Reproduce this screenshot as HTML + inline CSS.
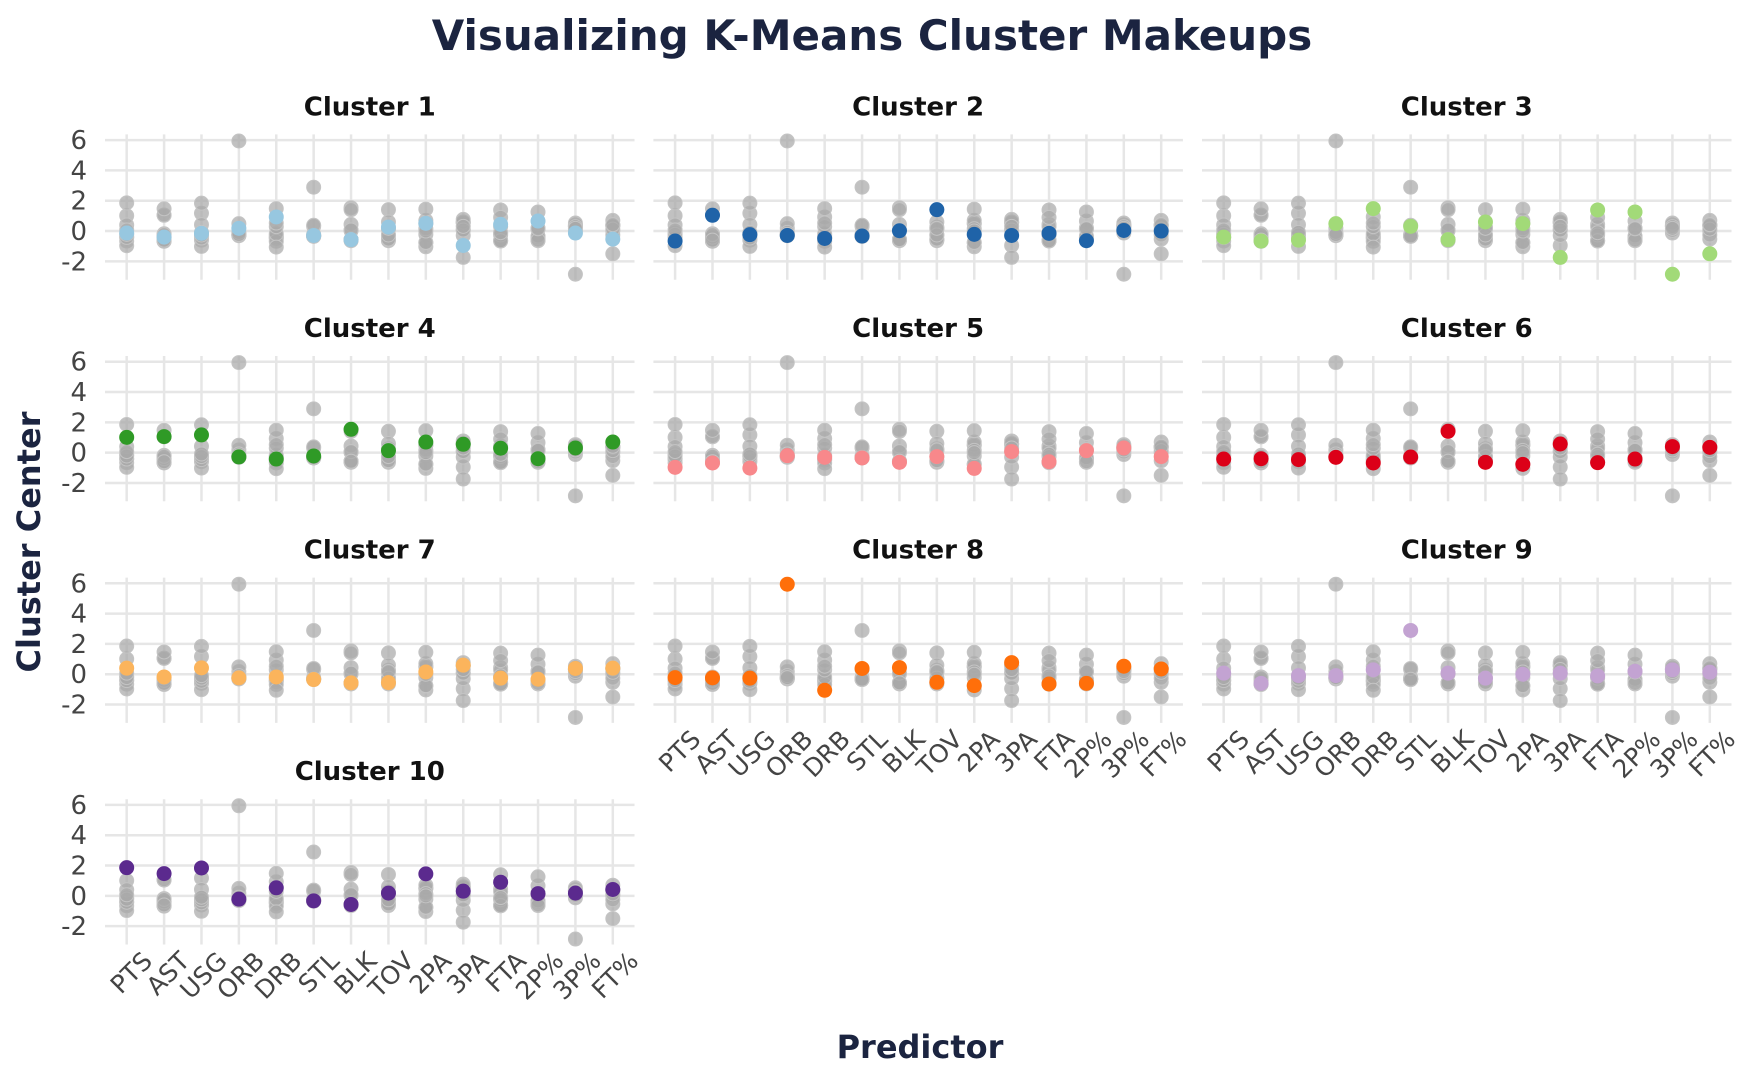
<!DOCTYPE html>
<html>
<head>
<meta charset="utf-8">
<style>
html,body{margin:0;padding:0;background:#fff;}
svg{display:block;}
text{font-family:"DejaVu Sans","Liberation Sans",sans-serif;}
</style>
</head>
<body>
<svg id="chart" width="1750" height="1081" viewBox="0 0 1750 1081" xmlns="http://www.w3.org/2000/svg">
  <rect width="1750" height="1081" fill="#ffffff"/>
  <text x="872" y="50" text-anchor="middle" font-size="42" font-weight="bold" fill="#1b2440">Visualizing K-Means Cluster Makeups</text>
  <text transform="translate(40,542) rotate(-90)" text-anchor="middle" font-size="32" font-weight="bold" fill="#1b2440">Cluster Center</text>
  <text x="920" y="1058" text-anchor="middle" font-size="32" font-weight="bold" fill="#1b2440">Predictor</text>
  <g id="panels"></g>
</svg>
<script>
const predictors = ["PTS","AST","USG","ORB","DRB","STL","BLK","TOV","2PA","3PA","FTA","2P%","3P%","FT%"];
const clusterNames = ["Cluster 1","Cluster 2","Cluster 3","Cluster 4","Cluster 5","Cluster 6","Cluster 7","Cluster 8","Cluster 9","Cluster 10"];
const clusterColors = ["#97c7e0","#1f63a8","#a2da78","#2f9a26","#f8888b","#dc0018","#fbb45c","#ff6f0a","#c3a3d2","#5b2a8e"];
const c1 = [-0.13,-0.40,-0.15,0.18,0.93,-0.29,-0.57,0.26,0.51,-0.95,0.44,0.66,-0.13,-0.53];
const c2 = [-0.66,1.04,-0.24,-0.29,-0.49,-0.33,0.02,1.41,-0.22,-0.29,-0.15,-0.64,0.04,0.00];
const c3 = [-0.40,-0.66,-0.60,0.49,1.48,0.31,-0.57,0.60,0.49,-1.74,1.39,1.26,-2.85,-1.50];
const c4 = [1.01,1.06,1.17,-0.28,-0.42,-0.22,1.54,0.13,0.70,0.55,0.29,-0.40,0.31,0.70];
const c5 = [-0.97,-0.68,-1.02,-0.20,-0.31,-0.35,-0.64,-0.26,-1.04,0.07,-0.60,0.13,0.31,-0.26];
const c6 = [-0.42,-0.40,-0.46,-0.31,-0.68,-0.29,1.41,-0.64,-0.77,0.57,-0.66,-0.42,0.40,0.35];
const c7 = [0.40,-0.18,0.42,-0.24,-0.18,-0.35,-0.57,-0.55,0.15,0.60,-0.26,-0.33,0.38,0.40];
const c8 = [-0.22,-0.24,-0.26,5.94,-1.06,0.38,0.44,-0.53,-0.75,0.77,-0.64,-0.60,0.53,0.35];
const c9 = [0.07,-0.60,-0.09,-0.09,0.29,2.89,0.07,-0.26,0.00,0.07,-0.11,0.20,0.29,0.13];
const c10 = [1.86,1.47,1.84,-0.22,0.53,-0.33,-0.57,0.18,1.45,0.31,0.90,0.15,0.18,0.42];
const clusterValues = [c1,c2,c3,c4,c5,c6,c7,c8,c9,c10];
const yTicks = [-2,0,2,4,6];
const yTickLabels = ["-2","0","2","4","6"];

const NS = "http://www.w3.org/2000/svg";
const root = document.getElementById("panels");
const colLeft = [105, 653.4, 1202];
const panelW = 529.5;
const rowTop = [134.4, 356, 577.6, 799.2];
const panelH = 145.3;
const yMin = -3.21, yMax = 6.376;
const xMin = -0.58, xMax = 13.58;

function mk(tag, attrs, parent) {
  const e = document.createElementNS(NS, tag);
  for (const k in attrs) e.setAttribute(k, attrs[k]);
  parent.appendChild(e);
  return e;
}

clusterNames.forEach((name, ci) => {
  const row = Math.floor(ci / 3), col = ci % 3;
  const left = colLeft[col], top = rowTop[row];
  const xs = i => left + (i - xMin) / (xMax - xMin) * panelW;
  const ys = v => top + (yMax - v) / (yMax - yMin) * panelH;
  const g = mk("g", {}, root);
  
  

  const t = mk("text", {x: left + panelW / 2, y: top - 19, "text-anchor": "middle", "font-size": 26, "font-weight": "bold", fill: "#111"}, g);
  t.textContent = name;
  
  

  yTicks.forEach((v, k) => {
    const ln = mk("line", {x1: left, x2: left + panelW, y1: ys(v), y2: ys(v), stroke: "#e6e6e6", "stroke-width": 2.5}, g);
    
    
    if (col === 0) {
      const tl = mk("text", {x: 87, y: ys(v) + 9, "text-anchor": "end", "font-size": 26, fill: "#444"}, g);
      tl.textContent = yTickLabels[k];
      
      
    }
  });
  predictors.forEach((p, i) => {
    const ln = mk("line", {x1: xs(i), x2: xs(i), y1: top, y2: top + panelH, stroke: "#e6e6e6", "stroke-width": 2.5}, g);
    
    
    if (ci >= 7) {
      const bx = xs(i) + 27, by = top + panelH + 18;
      const tl = mk("text", {transform: "translate(" + bx + "," + by + ") rotate(-45)", "text-anchor": "end", "font-size": 25, fill: "#444"}, g);
      tl.textContent = p;
      
      
    }
  });
  clusterValues.forEach((vals, oi) => {
    if (oi === ci) return;
    vals.forEach((v, i) => {
      const c = mk("circle", {cx: xs(i), cy: ys(v), r: 7, fill: "#a9a9a9", "fill-opacity": 0.72, stroke: "#c4c4c4", "stroke-width": 1}, g);
      
      
    });
  });
  clusterValues[ci].forEach((v, i) => {
    const c = mk("circle", {cx: xs(i), cy: ys(v), r: 7.5, fill: clusterColors[ci]}, g);
    
    
  });
});
</script>
</body>
</html>
